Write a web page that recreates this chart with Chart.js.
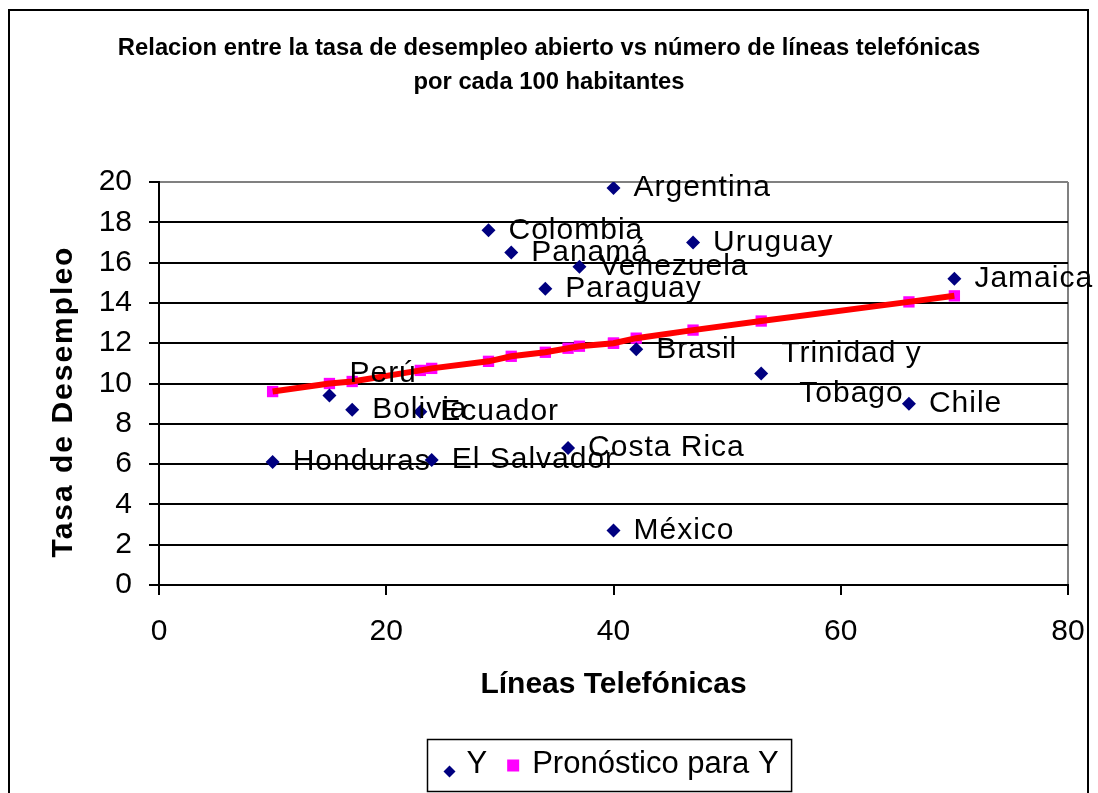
<!DOCTYPE html>
<html>
<head>
<meta charset="utf-8">
<title>Desempleo vs líneas telefónicas</title>
<script src="https://cdn.jsdelivr.net/npm/chart.js@4/dist/chart.umd.min.js"></script>
<style>
  body { margin: 0; background: #fff; }
  canvas { display: block; }
</style>
</head>
<body>
<canvas id="grafico" width="1098" height="793"></canvas>
<script>
// datos
const paises = ['Argentina', 'Bolivia', 'Brasil', 'Chile', 'Colombia', 'Costa Rica', 'Ecuador', 'El Salvador',
    'Honduras', 'Jamaica', 'México', 'Panamá', 'Paraguay', 'Perú', 'Trinidad y Tobago', 'Uruguay', 'Venezuela'];
const lineas = [40, 17, 42, 66, 29, 36, 23, 24, 10, 70, 40, 31, 34, 15, 53, 47, 37];
const desempleo = [19.7, 8.7, 11.7, 9.0, 17.6, 6.8, 8.6, 6.2, 6.1, 15.2, 2.7, 16.5, 14.7, 9.4, 10.5, 17.0, 15.8];
const pronostico = [12.0, 10.1, 12.25, 14.05, 11.1, 11.75, 10.65, 10.75, 9.6, 14.35, 12.0, 11.35, 11.55, 10.0, 13.1, 12.65, 11.85];

const ticksX = [0, 20, 40, 60, 80];
const ticksY = [0, 2, 4, 6, 8, 10, 12, 14, 16, 18, 20];

const titulo = ['Relacion entre la tasa de desempleo abierto vs número de líneas telefónicas', 'por cada 100 habitantes'];
const tituloX = 'Líneas Telefónicas';
const tituloY = 'Tasa de Desempleo';
const serieY = 'Y';
const seriePron = 'Pronóstico para Y';

const fuente = '"Liberation Sans", Arial, sans-serif';
Chart.defaults.font.family = fuente;
Chart.defaults.color = '#000';

const puntosY = lineas.map((x, i) => ({ x: x, y: desempleo[i] }));
const puntosPron = lineas.map((x, i) => ({ x: x, y: pronostico[i] }));
const tendencia = puntosPron.slice().sort((a, b) => a.x - b.x);

// etiquetas de paises al lado de cada punto
const saltos = { 'Trinidad y Tobago': ['Trinidad y', 'Tobago'] };
const desplazY = { 'Perú': -22 };

const etiquetas = {
    id: 'etiquetas',
    afterDatasetsDraw(chart) {
        const ctx = chart.ctx;
        const meta = chart.getDatasetMeta(0);
        ctx.save();
        ctx.font = '30px ' + fuente;
        ctx.letterSpacing = '1px';
        ctx.fillStyle = '#000';
        ctx.textBaseline = 'middle';
        meta.data.forEach((pt, i) => {
            const nombre = paises[i];
            const partes = saltos[nombre] || [nombre];
            const dy = desplazY[nombre] || 0;
            const ancho = Math.max(...partes.map(p => ctx.measureText(p).width));
            partes.forEach((p, j) => {
                const y = pt.y + dy + (j - (partes.length - 1) / 2) * 40;
                if (partes.length > 1) {
                    ctx.textAlign = 'center';
                    ctx.fillText(p, pt.x + 20 + ancho / 2, y);
                } else {
                    ctx.textAlign = 'left';
                    ctx.fillText(p, pt.x + 20, y);
                }
            });
        });
        ctx.restore();
    }
};

// marco, titulo del eje Y y leyenda con recuadro
const extras = {
    id: 'extras',
    afterDraw(chart) {
        const ctx = chart.ctx;
        const area = chart.chartArea;
        ctx.save();
        ctx.strokeStyle = '#000';
        ctx.lineWidth = 2;
        ctx.strokeRect(9, 10, 1079, 900);

        // titulo eje Y
        ctx.save();
        ctx.translate(64, (area.top + area.bottom) / 2 + 18);
        ctx.rotate(-Math.PI / 2);
        ctx.font = 'bold 30px ' + fuente;
        ctx.letterSpacing = '2px';
        ctx.textAlign = 'center';
        ctx.textBaseline = 'middle';
        ctx.fillStyle = '#000';
        ctx.fillText(tituloY, 0, 0);
        ctx.restore();

        // leyenda
        const dsY = chart.data.datasets[0];
        const dsP = chart.data.datasets[2];
        ctx.font = '31px ' + fuente;
        const wY = ctx.measureText(dsY.label).width;
        const wP = ctx.measureText(dsP.label).width;
        const total = 22 + 17 + wY + 26 + 19 + wP + 13;
        const izq = Math.round((area.left + area.right) / 2 - 4 - total / 2) + 0.5;
        const arriba = 739.5;
        ctx.lineWidth = 1.5;
        ctx.strokeRect(izq, arriba, total, 52);

        let x = izq + 22;
        ctx.fillStyle = dsY.backgroundColor;
        ctx.beginPath();
        ctx.moveTo(x - 6, arriba + 32);
        ctx.lineTo(x, arriba + 26);
        ctx.lineTo(x + 6, arriba + 32);
        ctx.lineTo(x, arriba + 38);
        ctx.closePath();
        ctx.fill();
        x += 17;
        ctx.fillStyle = '#000';
        ctx.textAlign = 'left';
        ctx.textBaseline = 'alphabetic';
        ctx.fillText(dsY.label, x, arriba + 33);
        x += wY + 26;
        ctx.fillStyle = dsP.backgroundColor;
        ctx.fillRect(x - 6, arriba + 20, 12, 12);
        x += 19;
        ctx.fillStyle = '#000';
        ctx.fillText(dsP.label, x, arriba + 33);
        ctx.restore();
    }
};

const ctx = document.getElementById('grafico').getContext('2d');
new Chart(ctx, {
    type: 'scatter',
    data: {
        datasets: [{
            label: serieY,
            data: puntosY,
            backgroundColor: '#000080',
            borderColor: '#000080',
            borderWidth: 0,
            pointStyle: 'rectRot',
            pointRadius: 7,
            order: 0
        }, {
            label: '',
            data: tendencia,
            showLine: true,
            borderColor: '#ff0000',
            borderWidth: 6,
            pointRadius: 0,
            order: 1
        }, {
            label: seriePron,
            data: puntosPron,
            backgroundColor: '#ff00ff',
            borderColor: '#ff00ff',
            borderWidth: 0,
            pointStyle: 'rect',
            pointRadius: 8,
            order: 2
        }]
    },
    options: {
        responsive: false,
        animation: false,
        layout: { padding: { top: 0, left: 30, right: 30, bottom: 0 } },
        plugins: {
            legend: { display: false },
            tooltip: { enabled: false },
            title: {
                display: true,
                text: titulo,
                color: '#000',
                font: { size: 23.8, weight: 'bold', lineHeight: 34 / 23.8 },
                padding: { top: 31, bottom: 83 }
            }
        },
        scales: {
            x: {
                type: 'linear',
                min: ticksX[0],
                max: ticksX[ticksX.length - 1],
                ticks: { stepSize: ticksX[1] - ticksX[0], font: { size: 30, lineHeight: 2 }, padding: 7, color: '#000' },
                grid: {
                    color: c => (c.tick && c.tick.value === ticksX[ticksX.length - 1]) ? '#808080' : 'rgba(0,0,0,0)',
                    tickColor: '#000',
                    lineWidth: 2,
                    tickLength: 10
                },
                border: { color: '#000', width: 2 },
                title: {
                    display: true,
                    text: tituloX,
                    color: '#000',
                    font: { size: 30, weight: 'bold' },
                    padding: { top: 0, bottom: 90 }
                },
                afterFit(scale) { scale.height = 208; }
            },
            y: {
                type: 'linear',
                min: ticksY[0],
                max: ticksY[ticksY.length - 1],
                ticks: { stepSize: ticksY[1] - ticksY[0], font: { size: 30 }, padding: 17, color: '#000' },
                grid: {
                    color: c => (c.tick && c.tick.value === ticksY[ticksY.length - 1]) ? '#808080' : '#000',
                    tickColor: '#000',
                    lineWidth: 2,
                    tickLength: 10
                },
                border: { color: '#000', width: 2 },
                afterFit(scale) { scale.width = 129; }
            }
        }
    },
    plugins: [etiquetas, extras]
});
</script>
</body>
</html>
